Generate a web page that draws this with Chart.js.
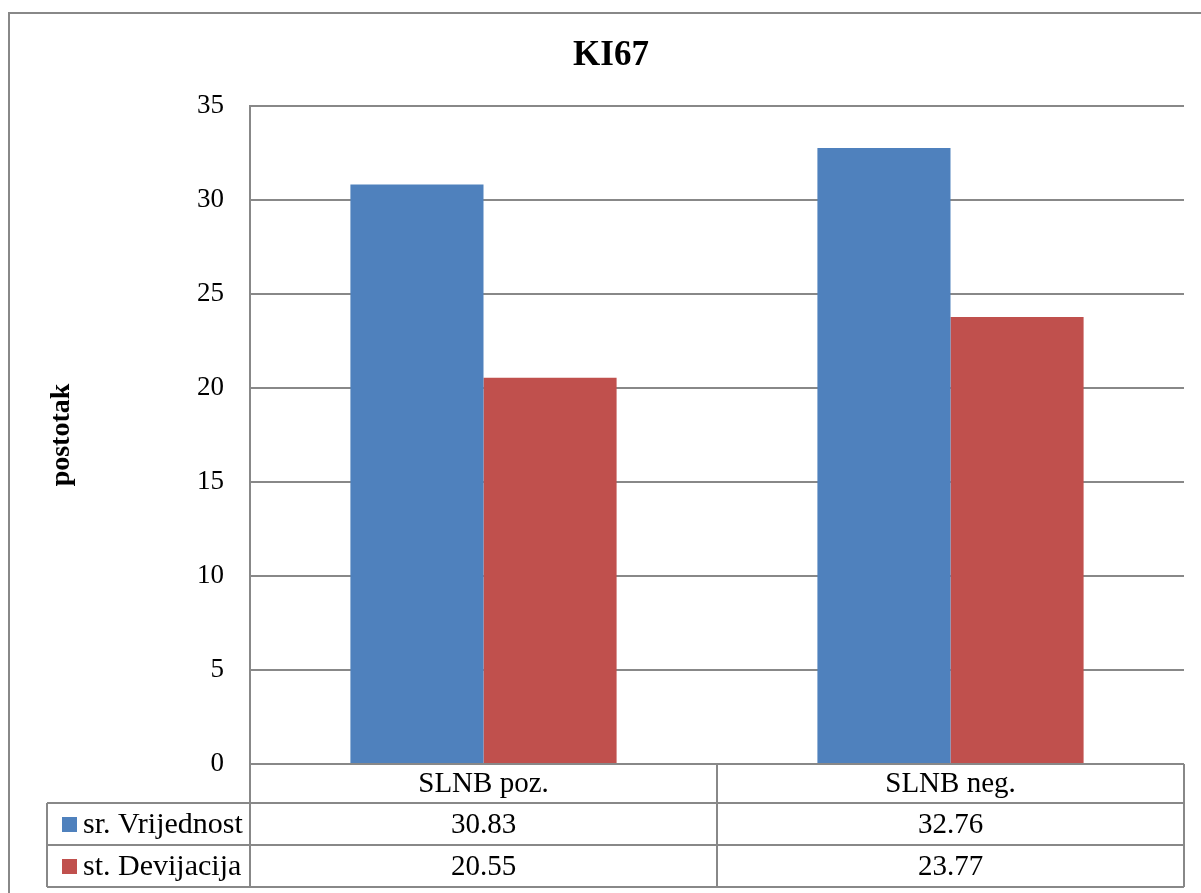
<!DOCTYPE html>
<html>
<head>
<meta charset="utf-8">
<title>KI67</title>
<script src="https://cdn.jsdelivr.net/npm/chart.js@4.4.1/dist/chart.umd.min.js"></script>
<style>
  html, body { margin: 0; padding: 0; background: #fff; overflow: hidden; }
  #wrap { position: relative; width: 1201px; height: 893px; }
  #frame { position: absolute; left: 8px; top: 12px; width: 1300px; height: 1000px; border: 2px solid #888; box-sizing: border-box; }
  #kiChart { position: absolute; left: 0; top: 0; }
</style>
</head>
<body>
<div id="wrap">
  <div id="frame"></div>
  <canvas id="kiChart" width="1201" height="893"></canvas>
</div>
<script>
// KI67 chart data
const categories = ["SLNB poz.", "SLNB neg."];
const seriesNames = ["sr. Vrijednost", "st. Devijacija"];
const meanValues = [30.83, 32.76];
const sdValues = [20.55, 23.77];
const seriesColors = ["#4F81BD", "#C0504D"];

const serif = "'Liberation Serif', 'Times New Roman', serif";
const lineGray = "#888888";

// draws the data table under the plot, Excel style
const dataTablePlugin = {
  id: "dataTable",
  afterDraw(chart) {
    const ctx = chart.ctx;
    const xs = chart.scales.x;
    const area = chart.chartArea;
    const rowTop = area.bottom;
    const rowH = [39, 42, 42];
    const tableLeft = 47;

    const centers = categories.map((c, i) => xs.getPixelForValue(i));
    const bounds = [area.left];
    for (let i = 0; i < centers.length - 1; i++) bounds.push((centers[i] + centers[i + 1]) / 2);
    bounds.push(area.right);

    const y0 = rowTop, y1 = y0 + rowH[0], y2 = y1 + rowH[1], y3 = y2 + rowH[2];

    ctx.save();
    ctx.strokeStyle = lineGray;
    ctx.lineWidth = 2;
    ctx.beginPath();
    // horizontal lines
    ctx.moveTo(area.left, y0); ctx.lineTo(area.right, y0);
    [y1, y2, y3].forEach(y => { ctx.moveTo(tableLeft, y); ctx.lineTo(area.right, y); });
    // vertical lines
    bounds.forEach(x => { ctx.moveTo(x, y0); ctx.lineTo(x, y3); });
    ctx.moveTo(tableLeft, y1); ctx.lineTo(tableLeft, y3);
    ctx.stroke();

    ctx.fillStyle = "#000";
    ctx.font = "29px " + serif;
    ctx.textBaseline = "middle";
    ctx.textAlign = "center";
    categories.forEach((c, i) => ctx.fillText(c, centers[i], (y0 + y1) / 2 + 1));

    const rows = [meanValues, sdValues];
    const rowYs = [(y1 + y2) / 2 + 1, (y2 + y3) / 2 + 1];
    rows.forEach((vals, r) => {
      ctx.font = "29px " + serif;
      ctx.textAlign = "center";
      ctx.fillStyle = "#000";
      vals.forEach((v, i) => ctx.fillText(v.toFixed(2), centers[i], rowYs[r]));
      // legend key + name
      ctx.fillStyle = seriesColors[r];
      ctx.fillRect(62, rowYs[r] - 8, 15, 15);
      ctx.fillStyle = "#000";
      ctx.textAlign = "left";
      ctx.font = "30px " + serif;
      ctx.fillText(seriesNames[r], 83, rowYs[r]);
    });
    ctx.restore();
  }
};

new Chart(document.getElementById("kiChart"), {
  type: "bar",
  data: {
    labels: categories,
    datasets: [
      { label: seriesNames[0], data: meanValues, backgroundColor: seriesColors[0], borderWidth: 0 },
      { label: seriesNames[1], data: sdValues, backgroundColor: seriesColors[1], borderWidth: 0 },
    ],
  },
  options: {
    responsive: false,
    animation: false,
    devicePixelRatio: 1,
    layout: { padding: { left: 38, right: 17, top: 0, bottom: 129 } },
    datasets: { bar: { categoryPercentage: 0.57, barPercentage: 1.0 } },
    plugins: {
      legend: { display: false },
      tooltip: { enabled: false },
      title: {
        display: true,
        text: "KI67",
        color: "#000",
        font: { family: serif, size: 35, weight: "bold" },
        padding: { top: 35, bottom: 29 },
      },
    },
    scales: {
      x: { display: false },
      y: {
        min: 0,
        max: 35,
        ticks: { stepSize: 5, color: "#000", font: { family: serif, size: 27 }, padding: 26 },
        grid: { color: lineGray, lineWidth: 2, drawTicks: false },
        border: { color: lineGray, width: 2 },
        title: {
          display: true,
          text: "postotak",
          color: "#000",
          font: { family: serif, size: 28, weight: "bold" },
          padding: { top: 7, bottom: 0 },
        },
        afterFit(scale) { scale.width = 212; },
      },
    },
  },
  plugins: [dataTablePlugin],
});
</script>
</body>
</html>
